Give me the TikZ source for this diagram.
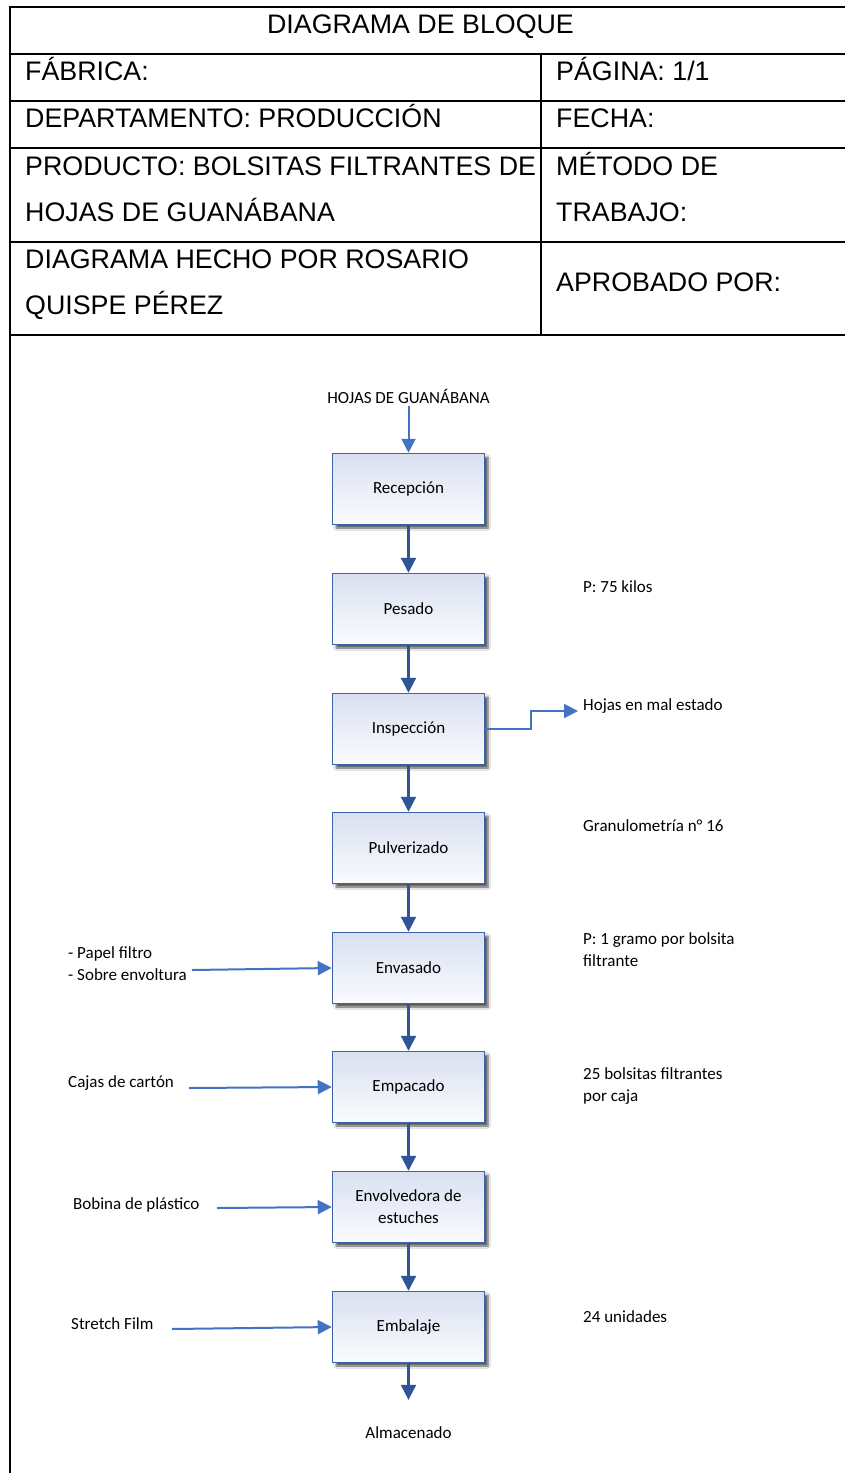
\documentclass[tikz,border=0pt]{standalone}
\usepackage{fontspec}
\setmainfont{Liberation Sans}
\newfontfamily\flowfont{Carlito}
\usetikzlibrary{arrows.meta,shadows.blur}
\definecolor{boxblue}{HTML}{3D63AD}
\definecolor{boxtop}{HTML}{D9E0F0}
\definecolor{boxbot}{HTML}{FAFBFE}
\definecolor{darkarrow}{HTML}{2F5597}
\definecolor{lightarrow}{HTML}{4472C4}
\begin{document}
\begin{tikzpicture}[x=1pt,y=-1pt,
  hdr/.style={anchor=base west, inner sep=0pt, font=\fontsize{26.8}{30}\selectfont},
  grid/.style={line width=1.8pt, black},
  proc/.style={draw=boxblue, line width=1.5pt, minimum width=152pt, minimum height=71pt,
    top color=boxtop, bottom color=boxbot,
    blur shadow={shadow xshift=3.5pt, shadow yshift=-3.5pt, shadow blur steps=6, shadow opacity=65},
    font=\flowfont\fontsize{17}{22}\selectfont, align=center},
  lbl/.style={anchor=west, inner sep=0pt, align=left, font=\flowfont\fontsize{17}{22}\selectfont},
  flow/.style={darkarrow, line width=2.2pt, -{Triangle[width=15pt,length=15pt]}},
  feed/.style={lightarrow, line width=2pt, -{Triangle[width=14pt,length=14pt]}}
]
\useasboundingbox (0,0) rectangle (845,1473);
\fill[white] (0,0) rectangle (845,1473);

% table grid
\draw[grid] (10,7) -- (845,7);
\draw[grid] (10,54) -- (845,54);
\draw[grid] (10,101) -- (845,101);
\draw[grid] (10,148) -- (845,148);
\draw[grid] (10,242) -- (845,242);
\draw[grid] (10,335) -- (845,335);
\draw[grid] (10,6) -- (10,1473);
\draw[grid] (541,54) -- (541,335);

% header texts
\node[hdr, anchor=base] (title) at (420.5,33.5) {DIAGRAMA DE BLOQUE};
\node[hdr] (fabrica) at (25,80) {FÁBRICA:};
\node[hdr] (pagina) at (556,80) {PÁGINA: 1/1};
\node[hdr] (depto) at (25,127.5) {DEPARTAMENTO: PRODUCCIÓN};
\node[hdr] (fecha) at (556,127.5) {FECHA:};
\node[hdr] (prod1) at (25,175.5) {PRODUCTO: BOLSITAS FILTRANTES DE};
\node[hdr] (prod2) at (25,221.5) {HOJAS DE GUANÁBANA};
\node[hdr] (metodo1) at (556,175.5) {MÉTODO DE};
\node[hdr] (metodo2) at (556,221.5) {TRABAJO:};
\node[hdr] (hecho1) at (25,268.5) {DIAGRAMA HECHO POR ROSARIO};
\node[hdr] (hecho2) at (25,314.5) {QUISPE PÉREZ};
\node[hdr] (aprob) at (556,291.5) {APROBADO POR:};

% flow
\node[lbl, anchor=center, inner sep=3pt] (hojas) at (408.5,396) {HOJAS DE GUANÁBANA};
\node[proc] (recep) at (408.5,489) {Recepción};
\node[proc] (pesado) at (408.5,609) {Pesado};
\node[proc] (insp) at (408.5,729) {Inspección};
\node[proc] (pulv) at (408.5,848) {Pulverizado};
\node[proc] (envas) at (408.5,968) {Envasado};
\node[proc] (empac) at (408.5,1087) {Empacado};
\node[proc] (envol) at (408.5,1207) {Envolvedora de\\estuches};
\node[proc] (embal) at (408.5,1327) {Embalaje};
\node[lbl, anchor=center, inner sep=3pt] (almac) at (408.5,1433) {Almacenado};

\draw[feed] (hojas) -- (recep);
\draw[flow] (recep) -- (pesado);
\draw[flow] (pesado) -- (insp);
\draw[flow] (insp) -- (pulv);
\draw[flow] (pulv) -- (envas);
\draw[flow] (envas) -- (empac);
\draw[flow] (empac) -- (envol);
\draw[flow] (envol) -- (embal);
\draw[flow, shorten >=24pt] (embal) -- (almac);

% right side notes
\node[lbl] (n75) at (583,587) {P: 75 kilos};
\node[lbl] (malest) at (583,706) {Hojas en mal estado};
\node[lbl] (granu) at (583,826) {Granulometría n° 16};
\node[lbl] (gramo) at (583,950) {P: 1 gramo por bolsita\\filtrante};
\node[lbl] (bols25) at (583,1086) {25 bolsitas filtrantes\\por caja};
\node[lbl] (u24) at (583,1317) {24 unidades};

\coordinate (elbow) at (531,729);
\draw[feed] (insp.east |- elbow) -- (elbow) -- (531,711) -- ([xshift=-5pt]malest.west |- 0,711);

% left inputs
\node[lbl] (papel) at (68,963.5) {- Papel filtro\\- Sobre envoltura};
\node[lbl] (cajas) at (68,1083) {Cajas de cartón};
\node[lbl] (bobina) at (73,1205) {Bobina de plástico};
\node[lbl] (stretch) at (71,1324) {Stretch Film};

\coordinate (papelend) at (192,970);
\coordinate (cajasend) at (189,1088);
\coordinate (bobinaend) at (217,1208);
\coordinate (stretchend) at (172,1329);
\draw[feed] (papelend) -- (envas.west);
\draw[feed] (cajasend) -- (empac.west);
\draw[feed] (bobinaend) -- (envol.west);
\draw[feed] (stretchend) -- (embal.west);
\end{tikzpicture}
\end{document}
